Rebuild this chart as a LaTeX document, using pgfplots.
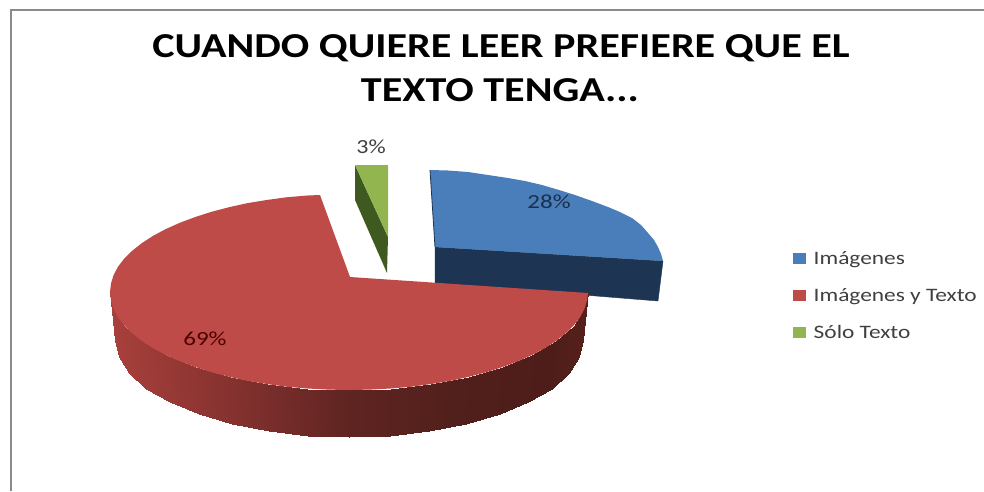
\documentclass[border=0pt]{standalone}
\usepackage{fontspec}
\setmainfont{Carlito}
\usepackage{pgfplots}
\pgfplotsset{compat=1.18}
\definecolor{blueTop}{HTML}{4A7EBB}
\definecolor{blueSide}{HTML}{1D3552}
\definecolor{redTop}{HTML}{BE4B48}
\definecolor{greenTop}{HTML}{93B550}
\definecolor{greenSide}{HTML}{3F5A20}
\definecolor{frameGrey}{HTML}{8A8A8A}
\definecolor{labelGrey}{HTML}{404040}
\newcommand{\widetext}[1]{\scalebox{1.23}[1]{#1}}
\begin{document}
\begin{tikzpicture}
\begin{axis}[
  scale only axis, width=984pt, height=491pt,
  xmin=0, xmax=984, ymin=0, ymax=491, y dir=reverse,
  hide axis,
  colormap={rim}{
    rgb255(110pt)=(168,64,60)
    rgb255(200pt)=(142,53,50)
    rgb255(280pt)=(117,44,42)
    rgb255(350pt)=(95,36,33)
    rgb255(450pt)=(82,32,28)
    rgb255(550pt)=(78,29,25)
    rgb255(588pt)=(86,32,28)
  },
  legend cell align=left,
  legend style={
    at={(axis cs:793,249)}, anchor=north west, draw=none, fill=none,
    font=\fontsize{19}{22}\selectfont, text=labelGrey,
    row sep=18.4pt, inner sep=0pt,
    /tikz/column 1/.style={column sep=5.5pt},
  },
  legend image code/.code={
    \fill[#1, draw=none] (0pt,-5.5pt) rectangle (13pt,5.5pt);
  },
]

% Chart background
\addplot[forget plot, fill=white, draw=none] coordinates {(0,0) (984,0) (984,491) (0,491)} -- cycle;

% Frame around the chart area
\addplot[forget plot, frameGrey, line width=2pt] coordinates {(11,491) (11,9.5) (984,9.5)};

% Exploded slice: Imágenes (side, then top)
\addplot[forget plot, fill=blueSide, draw=blueSide, line width=0.4pt] coordinates {
  (435,247) (663,261) (658,301) (435,283)} -- cycle;
\addplot[forget plot, fill=blueTop, draw=none] coordinates {
  (430,170) (448,170.5) (468,172) (488,175) (508,178) (525,181) (542,185)
  (559,190) (575,195) (592,201) (608,207) (621,212.5) (632,218) (641,225)
  (648,233) (654,240) (658,247) (661,254) (663,261) (435,247)} -- cycle;
\addplot[forget plot, blueSide, line width=0.8pt] coordinates {(430,170) (435,247)};

% Exploded slice: Sólo Texto (side, then top)
\addplot[forget plot, fill=greenSide, draw=none] coordinates {
  (355,165) (388,237) (387,273) (355,200)} -- cycle;
\addplot[forget plot, fill=greenTop, draw=none] coordinates {
  (355,165) (388,165) (388,237)} -- cycle;

% Rim of the large slice, shaded from left to right
\addplot[forget plot, surf, shader=interp, mesh/rows=2, point meta=\thisrow{c},
         point meta min=110, point meta max=588] table {
x y c
588 292 588
584.4 309 584.4
573.7 325.5 573.7
556 341 556
532.1 355 532.1
502.7 367 502.7
468.5 376.9 468.5
430.7 384.1 430.7
390.6 388.5 390.6
349 390 349
307.4 388.5 307.4
267.3 384.1 267.3
229.5 376.9 229.5
195.3 367 195.3
165.9 355 165.9
142 341 142
124.3 325.5 124.3
113.6 309 113.6
110 292 110

583 340 588
579.4 356.9 584.4
569 373.2 573.7
551.6 388.5 556
528.2 402.4 532.1
499.5 414.3 502.7
466 424 468.5
429 431.2 430.7
389.7 435.5 390.6
349 437 349
308.3 435.5 307.4
269 431.2 267.3
232 424 229.5
198.5 414.3 195.3
169.8 402.4 165.9
146.4 388.5 142
129 373.2 124.3
118.6 356.9 113.6
115 340 110
};

% Top face of the large slice: Imágenes y Texto
\addplot[forget plot, fill=redTop, draw=none] coordinates {
  (350,277) (588,293)
  (587,300.5) (584.4,309) (579.9,317.4) (573.7,325.5) (565.7,333.3) (556,341)
  (544.7,348.3) (532.1,355) (518,361.3) (502.7,367) (486.2,372.3) (468.5,376.9)
  (450.9,380.8) (430.7,384.1) (410.9,386.8) (390.6,388.5) (369.8,389.6) (349,390)
  (328.2,389.6) (307.4,388.5) (287.1,386.8) (267.3,384.1) (247.1,380.8) (229.5,376.9)
  (211.8,372.3) (195.3,367) (180,361.3) (165.9,355) (153.3,348.3) (142,341)
  (132.3,333.3) (124.3,325.5) (118.1,317.4) (113.6,309) (111,300.5) (110,292)
  (111,283.5) (113.6,275) (118.1,266.6) (124.3,258.5) (132.3,250.7) (142,243)
  (153.3,235.7) (165.9,229) (180,222.7) (195.3,217) (211.8,211.7) (229.5,207.1)
  (247.1,203.2) (267.3,199.9) (287.1,197.2) (307.4,195.5) (320,195)} -- cycle;

% Legend entries
\addlegendimage{fill=blueTop}
\addlegendentry{\widetext{Imágenes}}
\addlegendimage{fill=redTop}
\addlegendentry{\widetext{Imágenes y Texto}}
\addlegendimage{fill=greenTop}
\addlegendentry{\widetext{Sólo Texto}}

% Title, one node per line
\node[anchor=base, font=\fontsize{35}{40}\selectfont\bfseries, text=black] at (axis cs:501,57)
  {\scalebox{1.204}[1]{CUANDO QUIERE LEER PREFIERE QUE EL}};
\node[anchor=base, font=\fontsize{35}{40}\selectfont\bfseries, text=black] at (axis cs:500,101)
  {\scalebox{1.204}[1]{TEXTO TENGA...}};

% Percentage labels
\node[font=\fontsize{20}{22}\selectfont, text=labelGrey] at (axis cs:371,147) {\scalebox{1.2}[1]{3\%}};
\node[font=\fontsize{20}{22}\selectfont, text=blueSide!90!black] at (axis cs:549,202) {\scalebox{1.25}[1]{28\%}};
\node[font=\fontsize{20}{22}\selectfont, text=red!30!black] at (axis cs:205,339) {\scalebox{1.25}[1]{69\%}};
\end{axis}
\end{tikzpicture}
\end{document}
